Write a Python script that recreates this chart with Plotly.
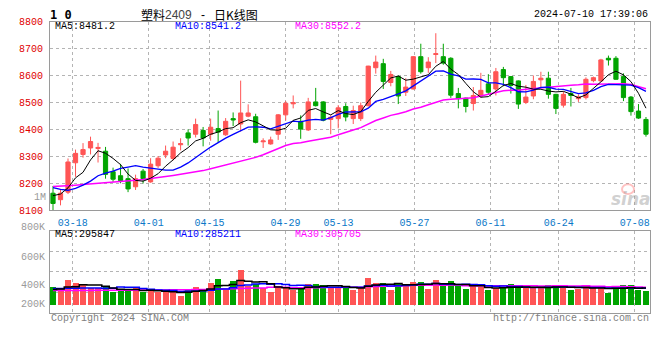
import pandas as pd
import numpy as np
import plotly.graph_objects as go

# ---------------- data ----------------
holidays = ['2024-04-04', '2024-04-05', '2024-05-01', '2024-05-02', '2024-05-03', '2024-06-10']
days = [d for d in pd.bdate_range('2024-03-13', '2024-07-10') if d.strftime('%Y-%m-%d') not in holidays]
dates = [d.strftime('%m-%d') for d in days]

opens = [8163, 8139, 8167, 8276, 8307, 8331, 8329, 8319, 8243, 8228,
         8217, 8187, 8245, 8205, 8265, 8305, 8292, 8343, 8387, 8382,
         8396, 8382, 8403, 8380, 8440, 8420, 8449, 8447, 8354, 8346,
         8382, 8454, 8495, 8430, 8398, 8502, 8502, 8437, 8440, 8485,
         8440, 8440, 8488, 8629, 8644, 8574, 8596, 8538, 8550, 8670,
         8629, 8678, 8670, 8664, 8533, 8516, 8496, 8524, 8569, 8550,
         8622, 8596, 8580, 8500, 8524, 8584, 8590, 8530, 8490, 8533,
         8514, 8518, 8581, 8580, 8664, 8664, 8596, 8520, 8468, 8437]
highs = [8190, 8175, 8292, 8325, 8349, 8373, 8350, 8335, 8258, 8272,
         8255, 8232, 8253, 8293, 8301, 8340, 8355, 8367, 8400, 8440,
         8409, 8440, 8470, 8442, 8463, 8581, 8493, 8458, 8367, 8373,
         8457, 8505, 8526, 8452, 8517, 8554, 8505, 8452, 8490, 8497,
         8488, 8500, 8636, 8674, 8662, 8617, 8600, 8590, 8672, 8718,
         8668, 8757, 8718, 8668, 8554, 8518, 8557, 8610, 8605, 8628,
         8632, 8598, 8582, 8565, 8600, 8614, 8614, 8532, 8541, 8554,
         8530, 8593, 8596, 8662, 8674, 8672, 8608, 8524, 8494, 8446]
lows = [8100, 8118, 8160, 8224, 8295, 8307, 8277, 8217, 8205, 8200,
        8167, 8175, 8199, 8202, 8257, 8293, 8285, 8322, 8340, 8370,
        8337, 8358, 8352, 8376, 8412, 8392, 8445, 8348, 8331, 8343,
        8361, 8433, 8478, 8365, 8394, 8485, 8430, 8382, 8404, 8430,
        8420, 8431, 8485, 8607, 8550, 8560, 8494, 8524, 8548, 8607,
        8610, 8646, 8640, 8517, 8478, 8463, 8470, 8518, 8530, 8526,
        8560, 8533, 8476, 8494, 8512, 8553, 8514, 8457, 8481, 8485,
        8502, 8511, 8575, 8578, 8637, 8584, 8505, 8451, 8439, 8373]
closes = [8125, 8163, 8279, 8311, 8325, 8355, 8333, 8233, 8215, 8210,
          8179, 8217, 8217, 8271, 8293, 8319, 8334, 8347, 8368, 8418,
          8368, 8408, 8390, 8430, 8435, 8461, 8461, 8352, 8357, 8361,
          8454, 8497, 8499, 8401, 8502, 8488, 8434, 8445, 8480, 8446,
          8470, 8488, 8635, 8650, 8578, 8604, 8524, 8557, 8670, 8614,
          8650, 8681, 8646, 8527, 8514, 8485, 8526, 8545, 8538, 8614,
          8592, 8563, 8494, 8520, 8578, 8590, 8530, 8478, 8530, 8526,
          8521, 8586, 8592, 8658, 8658, 8586, 8518, 8466, 8442, 8382]
volumes = [319000, 297000, 432000, 386000, 348000, 291000, 291000, 319000, 235000, 257000,
           257000, 291000, 235000, 247000, 223000, 223000, 247000, 168000, 257000, 319000,
           281000, 386000, 449000, 264000, 415000, 617000, 336000, 370000, 291000, 235000,
           336000, 291000, 264000, 291000, 365000, 365000, 348000, 319000, 291000, 302000,
           264000, 319000, 470000, 386000, 386000, 264000, 364000, 364000, 403000, 403000,
           280000, 431000, 336000, 414000, 336000, 280000, 330000, 319000, 264000, 302000,
           302000, 375000, 302000, 291000, 291000, 302000, 347000, 336000, 302000, 264000,
           280000, 347000, 291000, 314000, 218000, 291000, 347000, 347000, 264000, 246000]

ma5_head = [8154, 8160, 8183, 8220]
ma10_head = [8184, 8177, 8174, 8181, 8193, 8208, 8228, 8238, 8245]
ma30_head = [8188, 8189, 8191, 8193, 8195, 8197, 8200, 8202, 8204, 8206,
             8209, 8211, 8214, 8217, 8221, 8225, 8229, 8233, 8237, 8242,
             8247, 8254, 8261, 8267, 8273, 8280, 8287, 8296, 8306]
vma5_head = [274000, 280000, 314000, 319000]
vma10_head = [290000, 290000, 292000, 294000, 296000, 296000, 296000, 294000, 292000]
vma30_head = [255000, 255000, 256000, 256000, 257000, 257000, 258000, 258000, 259000, 259000,
              260000, 261000, 262000, 263000, 264000, 265000, 266000, 268000, 270000, 272000,
              274000, 276000, 279000, 282000, 285000, 288000, 292000, 296000, 300000]

tick_dates = ['03-18', '04-01', '04-15', '04-29', '05-13', '05-27', '06-11', '06-24', '07-08']
price_ticks = [8100, 8200, 8300, 8400, 8500, 8600, 8700, 8800]
vol_labels = ['800K', '600K', '400K', '200K']

ma_text = {'MA5': '8481.2', 'MA10': '8541.2', 'MA30': '8552.2'}
vma_text = {'MA5': '295847', 'MA10': '285211', 'MA30': '305705'}
title_parts = ['塑料', '2409', '-', '日K线图']
stamp_text = '2024-07-10 17:39:06'

assert len(dates) == len(opens) == len(closes) == len(volumes) == 80


def moving(values, n, head):
    s = pd.Series(values, dtype=float).rolling(n).mean()
    s.iloc[:n - 1] = head
    return s.tolist()


ma5 = moving(closes, 5, ma5_head)
ma10 = moving(closes, 10, ma10_head)
ma30 = moving(closes, 30, ma30_head)
vma5 = moving(volumes, 5, vma5_head)
vma10 = moving(volumes, 10, vma10_head)
vma30 = moving(volumes, 30, vma30_head)

# ---------------- styling ----------------
W, H = 660, 360
RED = '#ff5555'
GREEN = '#00a400'
GRID = '#b4b4b4'
BORDER = '#9a9a9a'
MONO = 'Liberation Mono, DejaVu Sans Mono, monospace'

idx = list(range(len(dates)))
x_range = [-0.3997, 79.536]
step = 600 / 593
tickvals = [dates.index(d) * step - 0.3997 for d in tick_dates]

px = lambda v: v / W
py = lambda v: 1 - v / H

vol_min, vol_max = -127680, 1283520

fig = go.Figure()
fig.add_trace(go.Candlestick(
    x=idx, open=opens, high=highs, low=lows, close=closes,
    increasing=dict(line=dict(color=RED, width=1), fillcolor=RED),
    decreasing=dict(line=dict(color=GREEN, width=1), fillcolor=GREEN),
    whiskerwidth=0, xaxis='x', yaxis='y', showlegend=False, hoverinfo='skip'))
fig.add_trace(go.Scatter(x=idx, y=ma30, mode='lines', line=dict(color='#ff00ff', width=1.5),
                         xaxis='x', yaxis='y', showlegend=False, hoverinfo='skip'))
fig.add_trace(go.Scatter(x=idx, y=ma10, mode='lines', line=dict(color='#0000ff', width=1.3),
                         xaxis='x', yaxis='y', showlegend=False, hoverinfo='skip'))
fig.add_trace(go.Scatter(x=idx, y=ma5, mode='lines', line=dict(color='#000000', width=1),
                         xaxis='x', yaxis='y', showlegend=False, hoverinfo='skip'))

bar_colors = [RED if c >= o else GREEN for o, c in zip(opens, closes)]
fig.add_trace(go.Bar(x=idx, y=volumes, marker=dict(color=bar_colors, line=dict(width=0)),
                     width=0.8, xaxis='x2', yaxis='y2', showlegend=False, hoverinfo='skip'))
for vals, col in [(vma30, '#ff00ff'), (vma10, '#0000ff'), (vma5, '#000000')]:
    fig.add_trace(go.Scatter(x=idx, y=vals, mode='lines', line=dict(color=col, width=1.5, shape='hvh'),
                             xaxis='x2', yaxis='y2', showlegend=False, hoverinfo='skip'))

axis_common = dict(showline=True, mirror=True, linecolor=BORDER, linewidth=1,
                   gridcolor=GRID, griddash='dot', gridwidth=1, zeroline=False, ticks='',
                   fixedrange=True)

fig.update_layout(
    width=W, height=H, margin=dict(l=0, r=0, t=0, b=0),
    paper_bgcolor='white', plot_bgcolor='white',
    boxgap=0.2, bargap=0,
    xaxis=dict(domain=[px(50), px(650)], range=x_range, anchor='y',
               tickmode='array', tickvals=tickvals, ticktext=tick_dates,
               tickfont=dict(family=MONO, size=10, color='#0a78c8'),
               rangeslider=dict(visible=False), ticklabelstandoff=3, **axis_common),
    yaxis=dict(domain=[py(212.7), py(18.2)], range=[8100, 8800], anchor='x',
               tickmode='array', tickvals=price_ticks,
               tickfont=dict(family=MONO, size=10, color='#e00000'),
               ticklabelstandoff=4, **axis_common),
    xaxis2=dict(domain=[px(50), px(650)], range=x_range, anchor='y2',
                tickmode='array', tickvals=tickvals, showticklabels=False, **axis_common),
    yaxis2=dict(domain=[py(318.3), py(234.3)], range=[vol_min, vol_max], anchor='x2',
                tickmode='array',
                tickvals=[vol_min + f * (vol_max - vol_min) for f in (0.25, 0.5, 0.75)],
                showticklabels=False, **axis_common),
)

ann = []


def text(x, y, s, color='black', size=10, anchor='left', family=MONO, **kw):
    ann.append(dict(x=px(x), y=py(y), xref='paper', yref='paper', text=s, showarrow=False,
                    xanchor=anchor, yanchor='middle', borderpad=0,
                    font=dict(family=family, size=size, color=color), **kw))


text(54, 23, f"MA5:{ma_text['MA5']}")
text(174, 23, f"MA10:{ma_text['MA10']}", '#0000ff')
text(294, 23, f"MA30:{ma_text['MA30']}", '#ff00ff')
text(54, 238, f"MA5:{vma_text['MA5']}")
text(174, 238, f"MA10:{vma_text['MA10']}", '#0000ff')
text(294, 238, f"MA30:{vma_text['MA30']}", '#ff00ff')
for lab, yy in zip(vol_labels, [231, 261, 290, 310]):
    text(46, yy, lab, '#9a9a9a', anchor='right')
text(47, 200, '1M', '#9a9a9a', anchor='right')
text(49, 11, '<b>1\u00a00</b>', 'black', size=12, family='DejaVu Sans Mono')
# title: 塑料 / 2409 / - / 日K线图
CJK = 'Noto Sans CJK SC'
text(140, 11, title_parts[0], 'black', size=12, family=CJK)
text(164, 11, title_parts[1], '#444444', size=12, family='Liberation Sans, DejaVu Sans')
text(203, 11, title_parts[2], 'black', size=12, anchor='center', family='Liberation Sans')
text(213, 11, title_parts[3], 'black', size=12, family=CJK)
text(649, 11, stamp_text, 'black', size=10, anchor='right')
text(50, 324, 'Copyright 2024 SINA.COM', '#808080')
text(650, 324, 'http://finance.sina.com.cn', '#808080', anchor='right')
text(652, 201, '<i><b>sina</b></i>', 'rgba(150,150,150,0.45)', size=17, anchor='right',
     family='DejaVu Sans')
fig.update_layout(annotations=ann)
fig.add_shape(type='circle', xref='paper', yref='paper', x0=px(622), x1=px(634), y0=py(196), y1=py(186),
              line=dict(color='rgba(255,120,120,0.45)', width=2))

fig.write_html('out.html', config={'displayModeBar': False, 'staticPlot': True},
               post_script="document.body.style.margin='0';document.body.style.padding='0';"
                           "document.body.style.overflow='hidden';")
